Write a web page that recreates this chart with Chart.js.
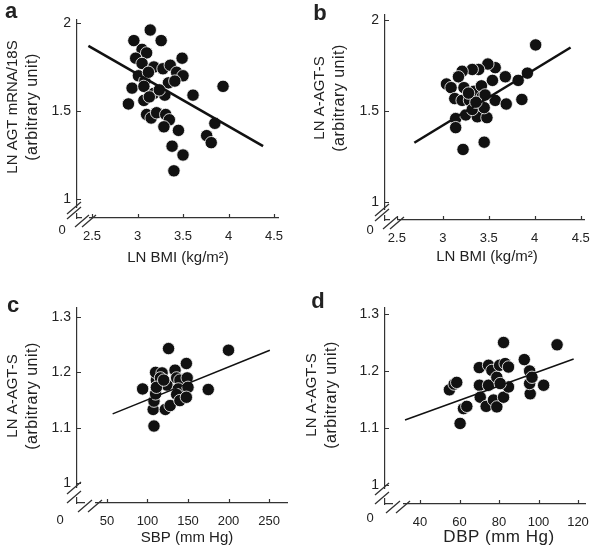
<!DOCTYPE html>
<html>
<head>
<meta charset="utf-8">
<script src="https://cdn.jsdelivr.net/npm/chart.js@4.4.0/dist/chart.umd.min.js"></script>
<style>
  html, body { margin: 0; padding: 0; background: #fff; }
  #wrap { position: relative; width: 601px; height: 558px; }
  canvas { position: absolute; }
</style>
</head>
<body>
<div id="wrap">
  <canvas id="pa" width="300" height="280" style="left:0;top:0"></canvas>
  <canvas id="pb" width="301" height="280" style="left:300px;top:0"></canvas>
  <canvas id="pc" width="300" height="278" style="left:0;top:280px"></canvas>
  <canvas id="pd" width="301" height="278" style="left:300px;top:280px"></canvas>
</div>
<script>
/// panel a: LN BMI vs LN AGT mRNA/18S
const aBmi = [2.96, 3.14, 3.26, 3.05, 3.10, 2.98, 3.49, 3.05, 3.18, 3.28, 3.36, 3.43, 3.50, 3.01, 3.08, 2.94, 3.07, 3.18, 3.34, 3.41, 3.30, 3.61, 3.94, 2.90, 3.07, 3.13, 3.10, 3.15, 3.21, 3.31, 3.35, 3.29, 3.45, 3.85, 3.76, 3.81, 3.38, 3.50, 3.40, 3.12, 3.24];
const aAgt = [1.90, 1.96, 1.90, 1.85, 1.83, 1.80, 1.80, 1.77, 1.75, 1.74, 1.76, 1.72, 1.70, 1.70, 1.67, 1.63, 1.64, 1.60, 1.66, 1.67, 1.59, 1.59, 1.64, 1.54, 1.56, 1.58, 1.48, 1.46, 1.49, 1.48, 1.45, 1.41, 1.39, 1.43, 1.36, 1.32, 1.30, 1.25, 1.16, 1.72, 1.62];
const aFitX = [2.46, 4.38];
const aFitY = [1.87, 1.30];

/// panel b: LN BMI vs LN A-AGT-S
const bBmi = [4.01, 3.92, 3.82, 3.68, 3.54, 3.57, 3.49, 3.39, 3.32, 3.21, 3.17, 3.04, 3.09, 3.13, 3.23, 3.34, 3.42, 3.43, 3.21, 3.29, 3.57, 3.69, 3.86, 3.14, 3.14, 3.25, 3.375, 3.48, 3.32, 3.45, 3.46, 3.22, 3.45, 3.36, 3.28];
const bAgts = [1.865, 1.71, 1.67, 1.69, 1.67, 1.74, 1.76, 1.73, 1.73, 1.72, 1.69, 1.65, 1.63, 1.57, 1.63, 1.61, 1.64, 1.58, 1.56, 1.56, 1.56, 1.54, 1.565, 1.46, 1.41, 1.48, 1.47, 1.465, 1.51, 1.52, 1.59, 1.29, 1.33, 1.55, 1.60];
const bFitX = [2.69, 4.39];
const bFitY = [1.327, 1.851];

/// panel c: SBP vs LN A-AGT-S
const cSbp = [94, 108, 107, 108, 110, 111, 110, 118, 116, 124, 126, 122, 128, 134, 136, 140, 138, 136, 140, 148, 149, 150, 148, 175, 200, 111, 120];
const cAgts = [1.170, 1.103, 1.133, 1.148, 1.161, 1.186, 1.200, 1.199, 1.19, 1.177, 1.243, 1.133, 1.140, 1.204, 1.19, 1.186, 1.170, 1.16, 1.149, 1.216, 1.19, 1.173, 1.155, 1.169, 1.240, 1.173, 1.186];
const cFitX = [57, 251];
const cFitY = [1.125, 1.240];

/// panel d: DBP vs LN A-AGT-S
const dDbp = [54.9, 57.3, 58.6, 60.3, 62, 63.7, 70, 70.1, 70.5, 73.5, 74.7, 74.7, 76.4, 77.2, 78.9, 78.9, 80.3, 82.3, 83.1, 84.8, 82.3, 84.8, 80.6, 92.8, 95.5, 95.8, 95.5, 96.7, 102.6, 109.4];
const dAgts = [1.167, 1.177, 1.18, 1.108, 1.134, 1.138, 1.206, 1.175, 1.154, 1.138, 1.210, 1.175, 1.201, 1.149, 1.137, 1.189, 1.210, 1.250, 1.213, 1.207, 1.154, 1.172, 1.178, 1.220, 1.200, 1.160, 1.178, 1.189, 1.175, 1.246];
const dFitX = [32.4, 117.8];
const dFitY = [1.114, 1.221];

/// tick labels
const bmiTicks = [2.5, 3, 3.5, 4, 4.5];
const agtTicks = [1, 1.5, 2];
const sbpTicks = [50, 100, 150, 200, 250];
const dbpTicks = [40, 60, 80, 100, 120];
const agtsTicks = [1, 1.1, 1.2, 1.3];

const FONT = "'Liberation Sans', Arial, sans-serif";
const TXT = "#222";
const AXIS = "#333";

const toPts = (xs, ys) => xs.map((v, i) => ({ x: v, y: ys[i] }));

// inward ticks, axis breaks and the free text of each panel
const decor = {
  id: "decor",
  afterDraw(chart, args, o) {
    const { ctx, chartArea: ca } = chart;
    const x = chart.scales.x, y = chart.scales.y;
    ctx.save();
    ctx.strokeStyle = AXIS;
    ctx.lineWidth = 1.2;
    ctx.beginPath();
    o.xTicks.forEach((v) => {
      const p = Math.round(x.getPixelForValue(v)) + 0.5;
      ctx.moveTo(p, ca.bottom);
      ctx.lineTo(p, ca.bottom - 4);
    });
    o.yTicks.forEach((v) => {
      const p = Math.round(y.getPixelForValue(v)) + 0.5;
      ctx.moveTo(ca.left, p);
      ctx.lineTo(ca.left + 4, p);
    });
    ctx.stroke();

    // breaks
    const [y1, y2] = o.yGap, [x1, x2] = o.xGap;
    ctx.fillStyle = "#fff";
    ctx.fillRect(ca.left - 2, ca.bottom - y2, 4, y2 - y1);
    ctx.fillRect(ca.left + x1, ca.bottom - 2, x2 - x1, 4);
    const slash = (cx, cy) => {
      ctx.moveTo(cx - 7, cy + 6);
      ctx.lineTo(cx + 7, cy - 6);
    };
    ctx.lineWidth = 1.3;
    ctx.beginPath();
    slash(ca.left - 3, ca.bottom - y1);
    slash(ca.left - 3, ca.bottom - y2);
    slash(ca.left + x1, ca.bottom + 3);
    slash(ca.left + x2, ca.bottom + 3);
    ctx.stroke();

    // text
    ctx.fillStyle = TXT;
    ctx.textAlign = "center";
    ctx.textBaseline = "middle";
    ctx.font = o.tickSize + "px " + FONT;
    ctx.fillText("0", o.zero[0], o.zero[1]);
    ctx.font = o.xTitleSize + "px " + FONT;
    ctx.letterSpacing = o.xTitleSpacing + "px";
    ctx.fillText(o.xTitle, o.xTitlePos[0], o.xTitlePos[1]);
    o.yTitle.forEach((t, i) => {
      ctx.save();
      ctx.font = o.yTitleSize[i] + "px " + FONT;
      ctx.letterSpacing = o.yTitleSpacing[i] + "px";
      ctx.translate(o.yTitleX[i], o.yTitleY);
      ctx.rotate(-Math.PI / 2);
      ctx.fillText(t, 0, 0);
      ctx.restore();
    });
    ctx.letterSpacing = "0px";
    ctx.font = "bold 22px " + FONT;
    ctx.fillText(o.letter, o.letterPos[0], o.letterPos[1]);
    ctx.restore();
  },
};

const makePanel = (id, p) => {
  const cv = document.getElementById(id);
  const W = cv.width, H = cv.height;
  new Chart(cv, {
    type: "scatter",
    data: {
      datasets: [
        {
          type: "line",
          data: toPts(p.fitX, p.fitY),
          borderColor: "#111",
          borderWidth: p.lineW,
          pointRadius: 0,
          fill: false,
        },
        {
          data: toPts(p.xs, p.ys),
          backgroundColor: "#111",
          borderColor: "#fff",
          borderWidth: 0.8,
          pointRadius: 6.2,
        },
      ],
    },
    options: {
      responsive: false,
      animation: false,
      events: [],
      layout: { padding: { top: p.area.top, right: W - p.area.right, left: 0, bottom: 0 } },
      plugins: {
        legend: { display: false },
        tooltip: { enabled: false },
        decor: p.decor,
      },
      scales: {
        x: {
          type: "linear",
          min: p.xMin,
          max: p.xMax,
          afterBuildTicks: (s) => { s.ticks = p.xTicks.map((v) => ({ value: v })); },
          afterFit: (s) => { s.height = H - p.area.bottom; },
          grid: { display: false, drawTicks: false },
          border: { display: true, color: AXIS, width: 1.2 },
          ticks: {
            padding: 11,
            color: TXT,
            font: { family: FONT, size: p.decor.tickSize },
            maxRotation: 0,
            callback: (v) => String(v),
          },
        },
        y: {
          type: "linear",
          min: p.yMin,
          max: p.yMax,
          afterBuildTicks: (s) => { s.ticks = p.yTicks.map((v) => ({ value: v })); },
          afterFit: (s) => { s.width = p.area.left; },
          grid: { display: false, drawTicks: false },
          border: { display: true, color: AXIS, width: 1.2 },
          ticks: {
            padding: 6,
            color: TXT,
            font: { family: FONT, size: 14 },
            callback: (v) => String(v),
          },
        },
      },
    },
    plugins: [decor],
  });
};

makePanel("pa", {
  xs: aBmi, ys: aAgt, fitX: aFitX, fitY: aFitY, lineW: 2.6,
  area: { left: 77, right: 278, top: 20, bottom: 218 },
  xMin: 2.335, xMax: 4.544, yMin: 0.892, yMax: 2.017,
  xTicks: bmiTicks, yTicks: agtTicks,
  decor: {
    xTicks: bmiTicks, yTicks: agtTicks, yGap: [5, 10], xGap: [5, 12],
    tickSize: 13, zero: [62, 230],
    xTitle: "LN BMI (kg/m²)", xTitlePos: [178, 258], xTitleSize: 15, xTitleSpacing: 0,
    yTitle: ["LN AGT mRNA/18S", "(arbitrary unit)"], yTitleSize: [15, 16], yTitleSpacing: [0, 0.5], yTitleX: [13, 33], yTitleY: 107,
    letter: "a", letterPos: [11, 12],
  },
});

makePanel("pb", {
  xs: bBmi, ys: bAgts, fitX: bFitX, fitY: bFitY, lineW: 2.6,
  area: { left: 85, right: 287, top: 13, bottom: 220 },
  xMin: 2.371, xMax: 4.543, yMin: 0.902, yMax: 2.033,
  xTicks: bmiTicks, yTicks: agtTicks,
  decor: {
    xTicks: bmiTicks, yTicks: agtTicks, yGap: [5, 10], xGap: [5, 12],
    tickSize: 13, zero: [70, 230],
    xTitle: "LN BMI (kg/m²)", xTitlePos: [187, 257], xTitleSize: 15, xTitleSpacing: 0,
    yTitle: ["LN A-AGT-S", "(arbitrary unit)"], yTitleSize: [15, 16], yTitleSpacing: [0, 0.5], yTitleX: [20, 40], yTitleY: 98,
    letter: "b", letterPos: [20, 14],
  },
});

makePanel("pc", {
  xs: cSbp, ys: cAgts, fitX: cFitX, fitY: cFitY, lineW: 1.5,
  area: { left: 77, right: 287, top: 28, bottom: 223 },
  xMin: 13, xMax: 272.2, yMin: 0.9639, yMax: 1.3163,
  xTicks: sbpTicks, yTicks: agtsTicks,
  decor: {
    xTicks: sbpTicks, yTicks: agtsTicks, yGap: [6, 15], xGap: [8, 18],
    tickSize: 13, zero: [60, 240],
    xTitle: "SBP (mm Hg)", xTitlePos: [187, 258], xTitleSize: 15, xTitleSpacing: 0,
    yTitle: ["LN A-AGT-S", "(arbitrary unit)"], yTitleSize: [15, 16], yTitleSpacing: [0, 0.5], yTitleX: [13, 33], yTitleY: 116,
    letter: "c", letterPos: [13, 26],
  },
});

makePanel("pd", {
  xs: dDbp, ys: dAgts, fitX: dFitX, fitY: dFitY, lineW: 1.5,
  area: { left: 85, right: 285, top: 28, bottom: 224 },
  xMin: 22.28, xMax: 123.54, yMin: 0.9667, yMax: 1.3105,
  xTicks: dbpTicks, yTicks: agtsTicks,
  decor: {
    xTicks: dbpTicks, yTicks: agtsTicks, yGap: [6, 15], xGap: [8, 18],
    tickSize: 13, zero: [70, 238],
    xTitle: "DBP (mm Hg)", xTitlePos: [199, 257], xTitleSize: 17, xTitleSpacing: 0.5,
    yTitle: ["LN A-AGT-S", "(arbitrary unit)"], yTitleSize: [15, 16], yTitleSpacing: [0, 0.5], yTitleX: [12, 32], yTitleY: 115,
    letter: "d", letterPos: [18, 22],
  },
});
</script>
</body>
</html>
